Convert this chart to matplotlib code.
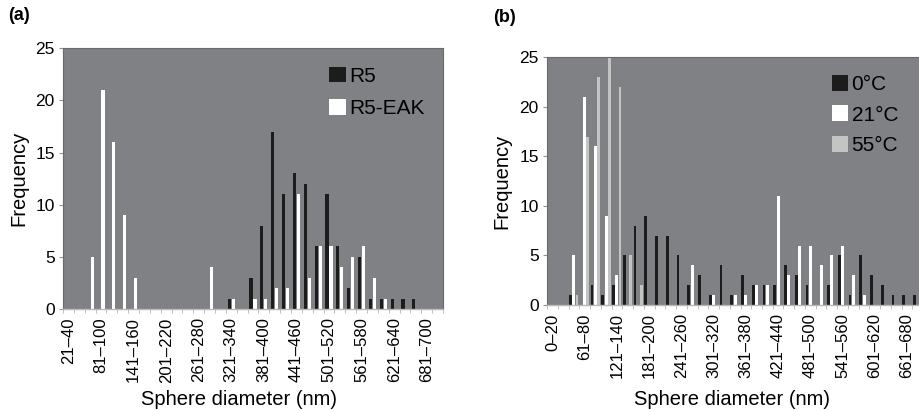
import matplotlib.pyplot as plt
import numpy as np

plt.rcParams['font.family'] = ['Liberation Sans', 'DejaVu Sans']

# --- dados painel (a): bins de 20 nm, 21-40 ... 701-720 ---
r5 = [0, 0, 0, 0, 0, 0, 0, 0, 0, 0, 0, 0, 0, 0, 0, 1, 0, 3, 8, 17,
      11, 13, 12, 6, 11, 6, 2, 5, 1, 1, 1, 1, 1, 0, 0]
r5_eak = [0, 0, 5, 21, 16, 9, 3, 0, 0, 0, 0, 0, 0, 4, 0, 1, 0, 1, 1, 2,
          2, 11, 3, 6, 6, 4, 5, 6, 3, 1, 0, 0, 0, 0, 0]
ticks_a = ['21\u201340', '81\u2013100', '141\u2013160', '201\u2013220', '261\u2013280',
           '321\u2013340', '381\u2013400', '441\u2013460', '501\u2013520', '561\u2013580',
           '621\u2013640', '681\u2013700']

# --- dados painel (b): bins de 20 nm, 0-20 ... 681-700 ---
t0 = [0, 0, 1, 0, 2, 1, 2, 5, 8, 9, 7, 7, 5, 2, 3, 1, 4, 1, 3, 2,
      2, 2, 4, 3, 2, 0, 2, 5, 1, 5, 3, 2, 1, 1, 1]
t21 = [0, 0, 5, 21, 16, 9, 3, 0, 0, 0, 0, 0, 0, 4, 0, 1, 0, 1, 1, 2,
       2, 11, 3, 6, 6, 4, 5, 6, 3, 1, 0, 0, 0, 0, 0]
t55 = [0, 0, 1, 17, 23, 27, 22, 5, 2, 0, 0, 0, 0, 0, 0, 0, 0, 0, 0, 0,
       0, 0, 0, 0, 0, 0, 0, 0, 0, 0, 0, 0, 0, 0, 0]
ticks_b = ['0\u201320', '61\u201380', '121\u2013140', '181\u2013200', '241\u2013260',
           '301\u2013320', '361\u2013380', '421\u2013440', '481\u2013500', '541\u2013560',
           '601\u2013620', '661\u2013680']

bg = '#7f8185'
W, H = 919, 411
fig = plt.figure(figsize=(W / 100, H / 100), dpi=100)
ax_a = fig.add_axes([63 / W, (H - 309) / H, 380 / W, (309 - 48.3) / H])
ax_b = fig.add_axes([547 / W, (H - 305) / H, 376.25 / W, (305 - 57.3) / H])


def estilo(ax, n, labels):
    ax.set_facecolor(bg)
    ax.set_xlim(-0.5, n - 0.5)
    ax.set_ylim(0, 25)
    ax.set_yticks([0, 5, 10, 15, 20, 25])
    ax.set_xticks(np.arange(0, n, 3)[:len(labels)])
    ax.set_xticklabels(labels, rotation=90)
    ax.set_xticks(np.arange(n + 1) - 0.5, minor=True)
    ax.tick_params(axis='x', which='major', length=0, pad=6, labelsize=12)
    ax.tick_params(axis='x', which='minor', length=3, color='#b5b5b5')
    ax.tick_params(axis='y', length=3, color='#909090', labelsize=12.5, pad=3)
    for s in ['left', 'top', 'right']:
        ax.spines[s].set_color('#6a6a6a')
        ax.spines[s].set_linewidth(0.8)
    ax.spines['bottom'].set_color('#b8b8b8')
    ax.spines['bottom'].set_linewidth(1.0)
    ax.set_ylabel('Frequency', fontsize=14.5)
    ax.set_xlabel('Sphere diameter (nm)', fontsize=14.5)


# --- painel (a) ---
x = np.arange(len(r5))
ax_a.bar(x - 0.185, r5, 0.3, color='#1c1c1c', label='R5')
ax_a.bar(x + 0.185, r5_eak, 0.3, color='#ffffff', label='R5-EAK')
estilo(ax_a, len(r5), ticks_a)
ax_a.yaxis.set_label_coords(-0.09, 0.5)
ax_a.xaxis.set_label_coords(0.463, -0.31)
ax_a.legend(loc='upper left', bbox_to_anchor=(0.70, 0.93), frameon=False, fontsize=15,
            handlelength=0.8, handleheight=0.8, handletextpad=0.15, labelspacing=0.62,
            borderpad=0, borderaxespad=0)

# --- painel (b) ---
x = np.arange(len(t0))
ax_b.bar(x - 0.31, t0, 0.26, color='#1c1c1c', label='0\u00b0C')
ax_b.bar(x, t21, 0.26, color='#ffffff', label='21\u00b0C')
ax_b.bar(x + 0.29, t55, 0.26, color='#c4c4c4', label='55\u00b0C')
estilo(ax_b, len(t0), ticks_b)
ax_b.yaxis.set_label_coords(-0.094, 0.5)
ax_b.xaxis.set_label_coords(0.492, -0.343)
ax_b.legend(loc='upper left', bbox_to_anchor=(0.757, 0.93), frameon=False, fontsize=15,
            handlelength=0.8, handleheight=0.8, handletextpad=0.15, labelspacing=0.55,
            borderpad=0, borderaxespad=0)

fig.text(8 / W, 1 - 15 / H, '(a)', fontsize=13, fontweight='bold', va='center')
fig.text(493 / W, 1 - 18 / H, '(b)', fontsize=13, fontweight='bold', va='center')

plt.savefig('out.png', dpi=100)
plt.close()
